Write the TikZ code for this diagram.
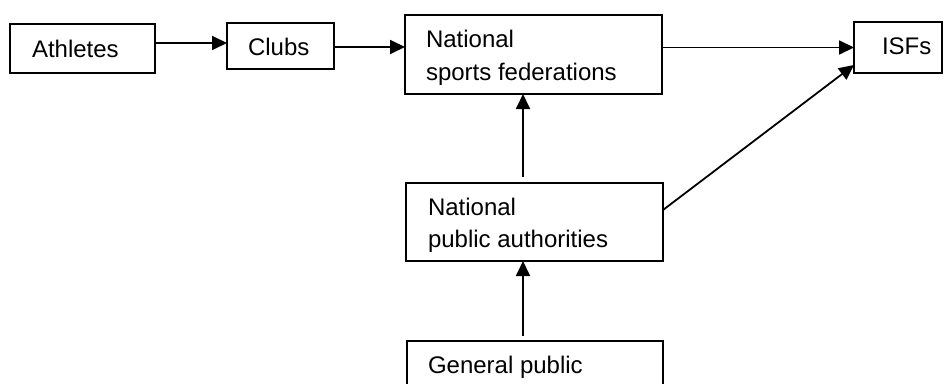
\documentclass[tikz,border=0pt]{standalone}
\usepackage{fontspec}
\setmainfont{Liberation Sans}
\usetikzlibrary{arrows.meta}
\begin{document}
\begin{tikzpicture}[x=1pt,y=-1pt,
  box/.style={draw,line width=1.9pt,rectangle,anchor=north west,inner sep=0pt,outer sep=0pt},
  lbl/.style={anchor=base west,inner sep=0pt,outer sep=0pt,font=\fontsize{24}{28}\selectfont},
  arr/.style={line width=1.8pt,-{Triangle[length=15pt,width=14pt]}}]
\useasboundingbox (0,0) rectangle (944,383);
\node[box,minimum width=145pt,minimum height=49pt] (ath) at (10,24) {};
\node[box,minimum width=107pt,minimum height=46pt] (clubs) at (227,23) {};
\node[box,minimum width=257pt,minimum height=79pt] (nsf) at (405,15) {};
\node[box,minimum width=88pt,minimum height=51pt] (isf) at (854,22) {};
\node[box,minimum width=257pt,minimum height=78pt] (npa) at (406,183) {};
\node[box,minimum width=256pt,minimum height=70pt] (gp) at (407,341) {};

\node[lbl] (tath) at (32,57) {Athletes};
\node[lbl] (tclubs) at (248,55) {Clubs};
\node[lbl] (tnsf1) at (426,47.5) {National};
\node[lbl] (tnsf2) at (426,80) {sports federations};
\node[lbl] (tisf) at (882,54) {ISFs};
\node[lbl] (tnpa1) at (428,215) {National};
\node[lbl] (tnpa2) at (428,247) {public authorities};
\node[lbl] (tgp) at (428,373) {General public};

\coordinate (a1) at ([yshift=5.5pt]ath.east);
\draw[arr] (a1) -- (a1 -| clubs.west);
\coordinate (a2) at ([yshift=-1pt]clubs.east);
\draw[arr] (a2) -- (a2 -| nsf.west);
\coordinate (a3) at (isf.west -| nsf.east);
\draw[arr] (a3) -- (isf.west);
\coordinate (d1) at ([yshift=12pt]npa.east);
\coordinate (d2) at ([yshift=8pt]isf.south west);
\draw[arr] (d1) -- (d2);
\coordinate (v1) at ([xshift=-11.5pt,yshift=6pt]npa.north);
\draw[arr] (v1) -- (v1 |- nsf.south);
\coordinate (v2) at ([xshift=-12pt,yshift=5pt]gp.north);
\draw[arr] (v2) -- (v2 |- npa.south);
\end{tikzpicture}
\end{document}
